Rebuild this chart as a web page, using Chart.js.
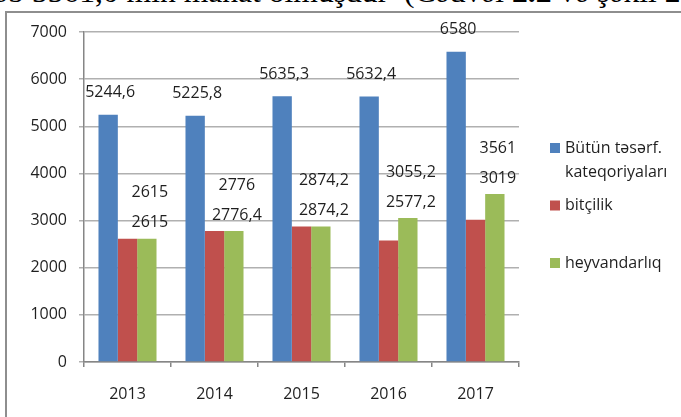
<!DOCTYPE html>
<html>
<head>
<meta charset="utf-8">
<script src="https://cdn.jsdelivr.net/npm/chart.js@4"></script>
<style>
  body { margin: 0; background: #fff; width: 681px; height: 417px; overflow: hidden; position: relative; }
  #top { position: absolute; left: -6px; top: -24px; font-family: "Liberation Serif"; font-size: 29px; white-space: nowrap; color: #000; transform: scaleX(1.09); transform-origin: left top; }
  #frame { position: absolute; left: 5px; top: 11px; width: 720px; height: 450px; border-left: 2px solid #8e8e8e; border-top: 2px solid #8e8e8e; }
  #myChart { position: absolute; left: 0; top: 0; }
</style>
</head>
<body>
<div id="top">əb 5561,0 min manat olmuşdur&nbsp; (Cədvəl <b>2.2</b> və şəkil 2.2)</div>
<div id="frame"></div>
<canvas id="myChart" width="681" height="417"></canvas>
<script>
var years = ['2013', '2014', '2015', '2016', '2017'];
var seriesNames = [['Bütün təsərf.', 'kateqoriyaları'], 'bitçilik', 'heyvandarlıq'];
var allFarms = [5244.6, 5225.8, 5635.3, 5632.4, 6580];
var crops = [2615, 2776.4, 2874.2, 2577.2, 3019];
var livestock = [2615, 2776.4, 2874.2, 3055.2, 3561];
// labels as printed on the picture (they don't always match the bars)
var allFarmsLabels = ['5244,6', '5225,8', '5635,3', '5632,4', '6580'];
var cropsLabels = ['2615', '2776,4', '2874,2', '2577,2', '3019'];
var livestockLabels = ['2615', '2776', '2874,2', '3055,2', '3561'];
var yMax = 7000;
var yStep = 1000;

var textColor = '#1f1f1f';
var fontFamily = '"Open Sans", sans-serif';
var fontSize = 16;

var valueLabels = {
    id: 'valueLabels',
    afterDatasetsDraw: function(chart) {
        var ctx = chart.ctx;
        var blue = chart.getDatasetMeta(0).data;
        var green = chart.getDatasetMeta(2).data;
        ctx.save();
        ctx.font = fontSize + 'px ' + fontFamily;
        ctx.fillStyle = textColor;
        ctx.textAlign = 'center';
        ctx.textBaseline = 'middle';
        for (var i = 0; i < years.length; i++) {
            ctx.fillText(allFarmsLabels[i], blue[i].x + 2, blue[i].y - 22);
            ctx.fillText(cropsLabels[i], green[i].x + 3, green[i].y - 16);
            ctx.fillText(livestockLabels[i], green[i].x + 3, green[i].y - 46);
        }
        ctx.restore();
    }
};

var sideLegend = {
    id: 'sideLegend',
    afterDraw: function(chart) {
        var ctx = chart.ctx;
        var area = chart.chartArea;
        var x = area.right + 31;
        var y = area.top + 116;
        ctx.save();
        ctx.font = fontSize + 'px ' + fontFamily;
        ctx.textAlign = 'left';
        ctx.textBaseline = 'middle';
        chart.data.datasets.forEach(function(ds) {
            ctx.fillStyle = ds.backgroundColor;
            ctx.fillRect(x, y - 5, 10, 10);
            ctx.fillStyle = textColor;
            [].concat(ds.label).forEach(function(t, k) {
                ctx.fillText(t, x + 15, y + k * 24);
            });
            y += 57.5;
        });
        ctx.restore();
    }
};

var ctx = document.getElementById('myChart').getContext('2d');
var chart = new Chart(ctx, {
    type: 'bar',
    data: {
        labels: years,
        datasets: [{
            label: seriesNames[0],
            backgroundColor: '#4F81BD',
            data: allFarms
        }, {
            label: seriesNames[1],
            backgroundColor: '#C0504D',
            data: crops
        }, {
            label: seriesNames[2],
            backgroundColor: '#9BBB59',
            data: livestock
        }]
    },
    options: {
        responsive: false,
        animation: false,
        devicePixelRatio: 1,
        categoryPercentage: 0.667,
        barPercentage: 1,
        layout: { padding: { top: 32, right: 162, left: 0, bottom: 0 } },
        plugins: {
            legend: { display: false },
            tooltip: { enabled: false }
        },
        scales: {
            x: {
                grid: { drawOnChartArea: false, tickLength: 5, color: '#868686', lineWidth: 1.5 },
                border: { color: '#868686', width: 1.5 },
                ticks: { color: textColor, font: { family: fontFamily, size: fontSize }, padding: 18 },
                afterFit: function(s) { s.height = 55; }
            },
            y: {
                min: 0,
                max: yMax,
                ticks: {
                    stepSize: yStep,
                    color: textColor,
                    font: { family: fontFamily, size: fontSize },
                    padding: 12,
                    callback: function(v) { return String(v); }
                },
                grid: { color: '#b0b0b0', lineWidth: 1.5, tickLength: 5 },
                border: { color: '#868686', width: 1.5 },
                afterFit: function(s) { s.width = 84; }
            }
        }
    },
    plugins: [valueLabels, sideLegend]
});
</script>
</body>
</html>
